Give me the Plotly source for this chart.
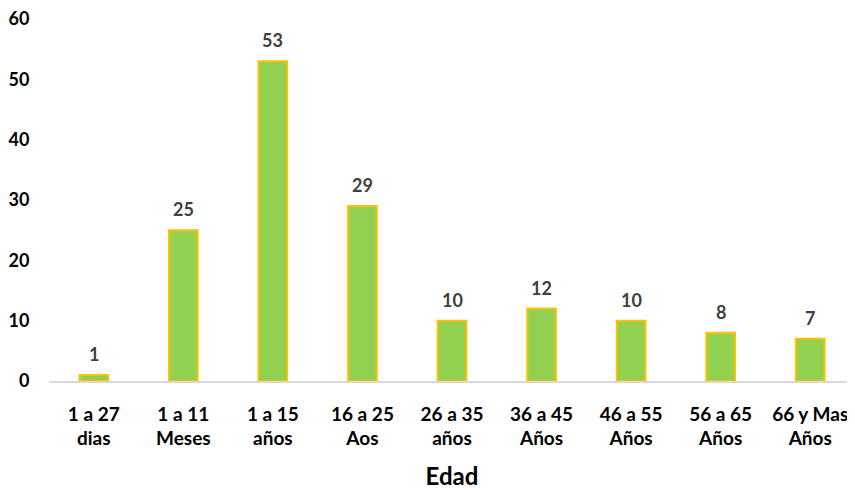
import plotly.graph_objects as go

categories = ["1 a 27<br>dias", "1 a 11<br>Meses", "1 a 15<br>años", "16 a 25<br>Aos",
              "26 a 35<br>años", "36 a 45<br>Años", "46 a 55<br>Años", "56 a 65<br>Años",
              "66 y Mas<br>Años"]
values = [1, 25, 53, 29, 10, 12, 10, 8, 7]
y_ticks = [0, 10, 20, 30, 40, 50, 60]

FONT = "Lato, Calibri, 'Open Sans', sans-serif"

fig = go.Figure(go.Bar(
    x=categories, y=values,
    marker=dict(color="#92D050", line=dict(color="#FFC000", width=2)),
))

for c, v in zip(categories, values):
    fig.add_annotation(
        x=c, y=v, text=str(v), showarrow=False, yanchor="bottom", yshift=8,
        font=dict(family=FONT, size=18, color="#404040", weight="bold"),
    )

fig.update_layout(
    width=847, height=482,
    margin=dict(l=41, r=0, t=11, b=109),
    paper_bgcolor="white", plot_bgcolor="white",
    bargap=0.68,
    showlegend=False,
    font=dict(family=FONT, color="#000000"),
    xaxis=dict(
        automargin=False,
        showgrid=False, showline=True, linecolor="#D9D9D9", linewidth=1.5,
        tickfont=dict(family=FONT, size=19, color="#000000", weight="bold"),
        title=dict(text="Edad", font=dict(family=FONT, size=24, color="#000000", weight="bold"), standoff=21),
        ticks="outside", ticklen=15, tickcolor="rgba(0,0,0,0)",
    ),
    yaxis=dict(
        automargin=False,
        range=[0, 60], tickvals=y_ticks, showgrid=False, zeroline=False,
        showline=False, ticklabeloverflow="allow",
        tickfont=dict(family=FONT, size=18, color="#000000", weight="bold"),
        ticks="outside", ticklen=15, tickcolor="rgba(0,0,0,0)",
    ),
)

fig.write_html("out.html")
